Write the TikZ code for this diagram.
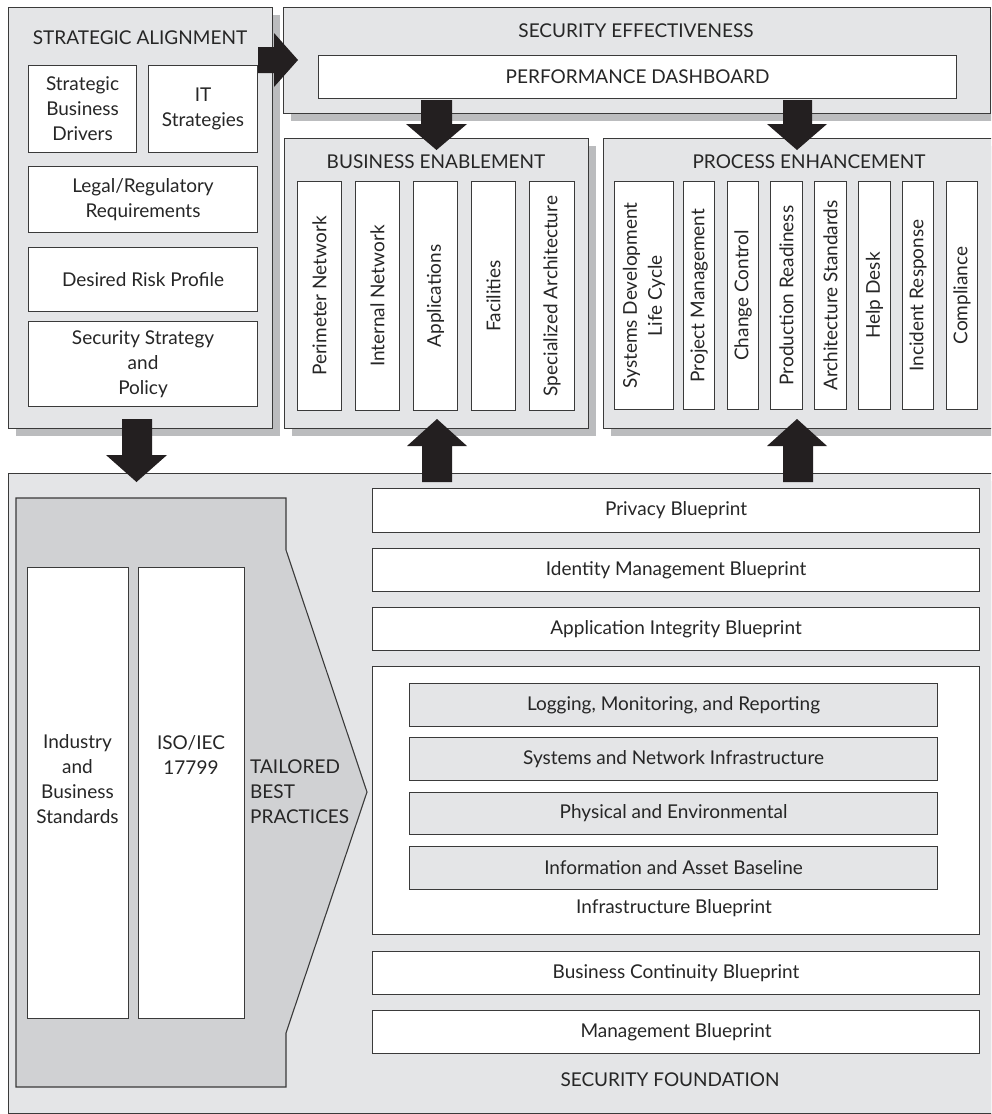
\documentclass[tikz,border=0pt]{standalone}
\usepackage{fontspec}
\setmainfont{Lato}
\usetikzlibrary{shadows}
\definecolor{panelgray}{HTML}{E4E5E7}
\definecolor{shadowgray}{HTML}{BBBCBE}
\definecolor{pentgray}{HTML}{D0D1D3}
\definecolor{edgecol}{HTML}{3A3A3A}
\definecolor{arrowblack}{HTML}{231F20}
\newcommand\fs{\fontsize{19}{25}\selectfont}
\tikzset{
  panel/.style={draw=edgecol, line width=1.1pt, fill=panelgray, anchor=north west, inner sep=0pt,
    drop shadow={shadow xshift=7pt, shadow yshift=-7pt, fill=shadowgray, opacity=1}},
  wbox/.style={draw=edgecol, line width=1.1pt, fill=white, anchor=north west, inner sep=0pt},
  gbox/.style={wbox, fill=panelgray},
  txt/.style={font=\fs, inner sep=0pt, align=center, text=black!85},
  vtxt/.style={txt, rotate=90},
  blockarrow/.style={fill=arrowblack, draw=none},
}
% \mybox{name}{style}{x1}{y1}{x2}{y2}
\newcommand\mybox[6]{\node[#2, minimum width={#5-#3}, minimum height={#6-#4}] (#1) at (#3,#4) {};}
\begin{document}
\begin{tikzpicture}[x=1pt,y=-1pt]
\useasboundingbox (0,0) rectangle (991,1114);
\clip (0,0) rectangle (991,1114);

% ---------- panels ----------
\mybox{sa}{panel}{8}{7}{272}{428}
\mybox{se}{panel}{283}{7}{990}{113}
\mybox{be}{panel}{284}{138}{588}{428}
\mybox{pe}{panel}{603}{138}{1015}{428}
\mybox{sf}{panel}{8}{473}{1005}{1113}

% ---------- strategic alignment ----------
\node[txt] (satitle) at (140,38) {STRATEGIC ALIGNMENT};
\mybox{sbd}{wbox}{28}{65}{136}{152}
\node[txt] at (sbd.center) {Strategic\\Business\\Drivers};
\mybox{its}{wbox}{148}{65}{257}{152}
\node[txt] at (its.center) {IT\\Strategies};
\mybox{legal}{wbox}{28}{166}{257}{232}
\node[txt] at (legal.center) {Legal/Regulatory\\Requirements};
\mybox{risk}{wbox}{28}{247}{257}{311}
\node[txt] at (risk.center) {Desired Risk Profile};
\mybox{ssp}{wbox}{28}{321}{257}{406}
\node[txt] at (ssp.center) {Security Strategy\\and\\Policy};

% ---------- security effectiveness ----------
\node[txt] (setitle) at (636,31) {SECURITY EFFECTIVENESS};
\mybox{pd}{wbox}{318}{55}{956}{98}
\node[txt] at (pd.center) {PERFORMANCE DASHBOARD};

% ---------- business enablement ----------
\node[txt] (betitle) at (436,162) {BUSINESS ENABLEMENT};
\mybox{be1}{wbox}{297}{181}{341}{410}
\node[vtxt] at (be1.center) {Perimeter Network};
\mybox{be2}{wbox}{355}{181}{399}{410}
\node[vtxt] at (be2.center) {Internal Network};
\mybox{be3}{wbox}{413}{181}{457}{410}
\node[vtxt] at (be3.center) {Applications};
\mybox{be4}{wbox}{471}{181}{515}{410}
\node[vtxt] at (be4.center) {Facilities};
\mybox{be5}{wbox}{529}{181}{574}{410}
\node[vtxt] at (be5.center) {Specialized Architecture};

% ---------- process enhancement ----------
\node[txt] (petitle) at (809,162) {PROCESS ENHANCEMENT};
\mybox{pe1}{wbox}{614}{181}{673}{409}
\node[vtxt] at (pe1.center) {Systems Development\\Life Cycle};
\mybox{pe2}{wbox}{683}{181}{714}{409}
\node[vtxt] at (pe2.center) {Project Management};
\mybox{pe3}{wbox}{727}{181}{758}{409}
\node[vtxt] at (pe3.center) {Change Control};
\mybox{pe4}{wbox}{770}{181}{802}{409}
\node[vtxt] at (pe4.center) {Production Readiness};
\mybox{pe5}{wbox}{814}{181}{846}{409}
\node[vtxt] at (pe5.center) {Architecture Standards};
\mybox{pe6}{wbox}{858}{181}{890}{409}
\node[vtxt] at (pe6.center) {Help Desk};
\mybox{pe7}{wbox}{902}{181}{933}{409}
\node[vtxt] at (pe7.center) {Incident Response};
\mybox{pe8}{wbox}{946}{181}{977}{409}
\node[vtxt] at (pe8.center) {Compliance};

% ---------- security foundation ----------
\draw[draw=edgecol, line width=1.1pt, fill=pentgray]
  (16,498) -- (286,498) -- (286,550) -- (367,792) -- (286,1033) -- (286,1087) -- (16,1087) -- cycle;
\mybox{ibs}{wbox}{27}{567}{128}{1018}
\node[txt] at (77.5,779) {Industry\\and\\Business\\Standards};
\mybox{iso}{wbox}{138}{567}{244}{1018}
\node[txt] at (191,755) {ISO/IEC\\17799};
\node[txt, align=left, anchor=west] (tbp) at (250,792) {TAILORED\\BEST\\PRACTICES};

\mybox{priv}{wbox}{372}{488}{979}{532}
\node[txt] at (priv.center) {Privacy Blueprint};
\mybox{idm}{wbox}{372}{548}{979}{591}
\node[txt] at (idm.center) {Identity Management Blueprint};
\mybox{aib}{wbox}{372}{607}{979}{650}
\node[txt] at (aib.center) {Application Integrity Blueprint};
\mybox{infra}{wbox}{372}{666}{979}{934}
\mybox{log}{gbox}{409}{683}{937}{726}
\node[txt] at (log.center) {Logging, Monitoring, and Reporting};
\mybox{sni}{gbox}{409}{737}{937}{780}
\node[txt] at (sni.center) {Systems and Network Infrastructure};
\mybox{phy}{gbox}{409}{792}{937}{834}
\node[txt] at (phy.center) {Physical and Environmental};
\mybox{iab}{gbox}{409}{846}{937}{889}
\node[txt] at (iab.center) {Information and Asset Baseline};
\node[txt] at (674,908) {Infrastructure Blueprint};
\mybox{bcb}{wbox}{372}{951}{979}{994}
\node[txt] at (bcb.center) {Business Continuity Blueprint};
\mybox{mgb}{wbox}{372}{1010}{979}{1053}
\node[txt] at (mgb.center) {Management Blueprint};
\node[txt] (sftitle) at (670,1080) {SECURITY FOUNDATION};

% ---------- block arrows ----------
\fill[blockarrow] (258,47) -- (274,47) -- (274,33) -- (298,60) -- (274,87) -- (274,73) -- (258,73) -- cycle;
\fill[blockarrow] (421,100) -- (452,100) -- (452,124) -- (467,124) -- (436.5,150) -- (406,124) -- (421,124) -- cycle;
\fill[blockarrow] (783,100) -- (812,100) -- (812,124) -- (827,124) -- (797,150) -- (767,124) -- (783,124) -- cycle;
\fill[blockarrow] (122,419) -- (152,419) -- (152,455) -- (167,455) -- (136.5,482) -- (106,455) -- (122,455) -- cycle;
\fill[blockarrow] (422,482) -- (452,482) -- (452,446) -- (467,446) -- (437,419) -- (407,446) -- (422,446) -- cycle;
\fill[blockarrow] (783,482) -- (813,482) -- (813,446) -- (827,446) -- (797,419) -- (767,446) -- (783,446) -- cycle;
\end{tikzpicture}
\end{document}
